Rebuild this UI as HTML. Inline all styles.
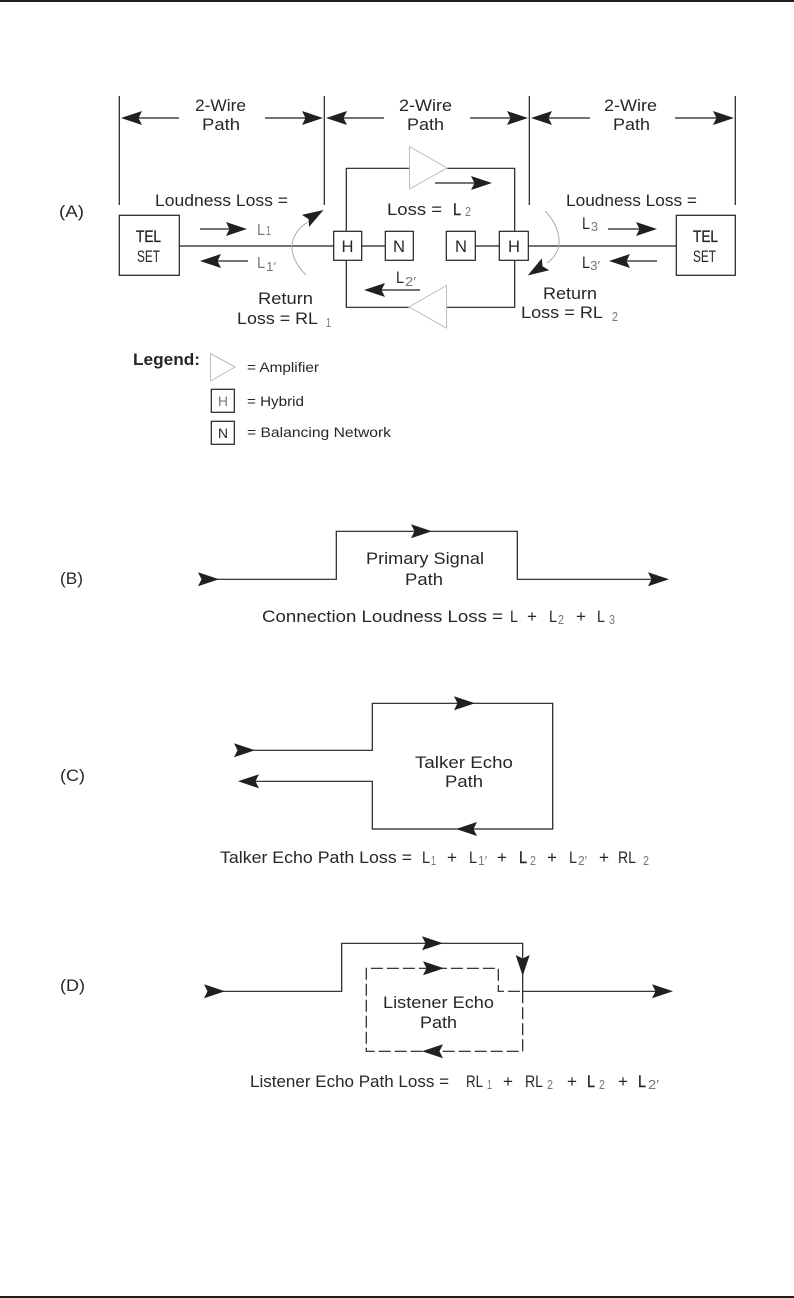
<!DOCTYPE html>
<html><head><meta charset="utf-8"><style>
html,body{margin:0;padding:0;background:#fff}
svg{display:block}
text{font-family:"Liberation Sans",sans-serif;font-size:16.5px;fill:#2a2626}
.s{font-size:13px;fill:#777}
.l{fill:none;stroke:#231f20;stroke-width:1.2}
.d{fill:none;stroke:#231f20;stroke-width:1.2;stroke-dasharray:12 4}
.t{fill:#fff;stroke:#bbb;stroke-width:1}
.c{fill:none;stroke:#aaa;stroke-width:1}
</style></head><body>
<svg xmlns="http://www.w3.org/2000/svg" width="794" height="1298" viewBox="0 0 794 1298">
<defs><path id="a" d="M0,0 L-21,-7 L-17.5,0 L-21,7 Z" fill="#231f20"/></defs>
<rect x="0" y="0" width="794" height="2" fill="#231f20"/>
<rect x="0" y="1296" width="794" height="2" fill="#231f20"/>

<!-- A: dimension -->
<path class="l" d="M119.3,96V205M324.3,96V205M529.3,96V205M735.3,96V205"/>
<path class="l" d="M125,118H179M265,118H318M331,118H384M470,118H523M536,118H590M675,118H728"/>
<use href="#a" transform="translate(121,118) rotate(180)"/>
<use href="#a" transform="translate(323,118)"/>
<use href="#a" transform="translate(326,118) rotate(180)"/>
<use href="#a" transform="translate(528,118)"/>
<use href="#a" transform="translate(531,118) rotate(180)"/>
<use href="#a" transform="translate(734,118)"/>
<text x="195" y="111" textLength="51" lengthAdjust="spacingAndGlyphs">2-Wire</text>
<text x="202" y="130" textLength="38" lengthAdjust="spacingAndGlyphs">Path</text>
<text x="399" y="111" textLength="53" lengthAdjust="spacingAndGlyphs">2-Wire</text>
<text x="407" y="130" textLength="37" lengthAdjust="spacingAndGlyphs">Path</text>
<text x="604" y="111" textLength="53" lengthAdjust="spacingAndGlyphs">2-Wire</text>
<text x="613" y="130" textLength="37" lengthAdjust="spacingAndGlyphs">Path</text>

<text x="59" y="217" textLength="25" lengthAdjust="spacingAndGlyphs">(A)</text>
<text x="155" y="206" textLength="133" lengthAdjust="spacingAndGlyphs">Loudness Loss =</text>
<text x="566" y="206" textLength="131" lengthAdjust="spacingAndGlyphs">Loudness Loss =</text>

<!-- A: TEL sets -->
<rect class="l" x="119.3" y="215.3" width="60" height="60"/>
<rect class="l" x="676.3" y="215.3" width="59" height="60"/>
<text style="stroke:#2a2626;stroke-width:.35" x="136" y="242" textLength="25" lengthAdjust="spacingAndGlyphs">TEL</text>
<text x="137" y="262" textLength="23" lengthAdjust="spacingAndGlyphs">SET</text>
<text style="stroke:#2a2626;stroke-width:.35" x="693" y="242" textLength="25" lengthAdjust="spacingAndGlyphs">TEL</text>
<text x="693" y="262" textLength="23" lengthAdjust="spacingAndGlyphs">SET</text>

<!-- A: lines -->
<path class="l" d="M179,246H334M362,246H385M476,246H499M528,246H676"/>
<path class="l" d="M346.3,231V168.3H409M447,168.3H514.7V231M514.7,260V307.3H447M409,307.3H346.3V260"/>
<rect class="l" x="333.7" y="231.3" width="28" height="29"/>
<rect class="l" x="385.3" y="231.3" width="28" height="29"/>
<rect class="l" x="446.3" y="231.3" width="29" height="29"/>
<rect class="l" x="499.3" y="231.3" width="29" height="29"/>
<text x="341.5" y="252" textLength="12" lengthAdjust="spacingAndGlyphs">H</text>
<text x="393" y="252" textLength="12" lengthAdjust="spacingAndGlyphs">N</text>
<text x="455" y="252" textLength="12" lengthAdjust="spacingAndGlyphs">N</text>
<text x="508" y="252" textLength="12" lengthAdjust="spacingAndGlyphs">H</text>
<path class="t" d="M409.5,146.5L447,168L409.5,189Z"/>
<path class="t" d="M446.5,285.5L409,307L446.5,328Z"/>

<!-- A: small arrows -->
<path class="l" d="M435,183H488M368,290H420M200,229H243M204,261H248M608,229H653M613,261H657"/>
<use href="#a" transform="translate(492,183)"/>
<use href="#a" transform="translate(364,290) rotate(180)"/>
<use href="#a" transform="translate(247,229)"/>
<use href="#a" transform="translate(200,261) rotate(180)"/>
<use href="#a" transform="translate(657,229)"/>
<use href="#a" transform="translate(609,261) rotate(180)"/>

<!-- A: curves -->
<path class="c" d="M306,275C296,265 292,256 292,247C292,237 298,228 308,222"/>
<use href="#a" transform="translate(323.5,210) rotate(-31)"/>
<path class="c" d="M545,211C555,221 559,232 559,242C559,251 554,258 547,263"/>
<use href="#a" transform="translate(527.7,275.5) rotate(148)"/>

<!-- A: labels -->
<text class="s" style="font-size:16px" x="257" y="235" textLength="8" lengthAdjust="spacingAndGlyphs">L</text>
<text class="s" x="266" y="235" textLength="5" lengthAdjust="spacingAndGlyphs">1</text>
<text class="s" style="font-size:16px" x="257" y="268" textLength="8" lengthAdjust="spacingAndGlyphs">L</text>
<text class="s" x="266" y="271" textLength="10" lengthAdjust="spacingAndGlyphs">1′</text>
<text x="258" y="304" textLength="55" lengthAdjust="spacingAndGlyphs">Return</text>
<text x="237" y="324" textLength="81" lengthAdjust="spacingAndGlyphs">Loss  =  RL</text>
<text class="s" x="326" y="327" textLength="5" lengthAdjust="spacingAndGlyphs">1</text>
<text x="387" y="215" textLength="55" lengthAdjust="spacingAndGlyphs">Loss  =</text>
<text style="stroke:#2a2626;stroke-width:.4" x="453" y="215" textLength="8" lengthAdjust="spacingAndGlyphs">L</text>
<text class="s" x="465" y="216" textLength="6" lengthAdjust="spacingAndGlyphs">2</text>
<text x="396" y="283" textLength="8" lengthAdjust="spacingAndGlyphs">L</text>
<text class="s" x="405" y="286" textLength="11" lengthAdjust="spacingAndGlyphs">2′</text>
<text x="582" y="229" textLength="8" lengthAdjust="spacingAndGlyphs">L</text>
<text class="s" x="591" y="231" textLength="7" lengthAdjust="spacingAndGlyphs">3</text>
<text x="582" y="268" textLength="8" lengthAdjust="spacingAndGlyphs">L</text>
<text class="s" x="590" y="270" textLength="10" lengthAdjust="spacingAndGlyphs">3′</text>
<text x="543" y="299" textLength="54" lengthAdjust="spacingAndGlyphs">Return</text>
<text x="521" y="318" textLength="82" lengthAdjust="spacingAndGlyphs">Loss  =  RL</text>
<text class="s" x="612" y="321" textLength="6" lengthAdjust="spacingAndGlyphs">2</text>

<!-- Legend -->
<text style="font-weight:bold;font-size:17px" x="133" y="365" textLength="67" lengthAdjust="spacingAndGlyphs">Legend:</text>
<path class="t" d="M210.5,353.5L235,367L210.5,381Z"/>
<text style="font-size:14px" x="247" y="372" textLength="72" lengthAdjust="spacingAndGlyphs">= Amplifier</text>
<rect class="l" x="211.3" y="389.3" width="23" height="23"/>
<text class="s" style="font-size:14px" x="218" y="406" textLength="10" lengthAdjust="spacingAndGlyphs">H</text>
<text style="font-size:14px" x="247" y="406" textLength="57" lengthAdjust="spacingAndGlyphs">= Hybrid</text>
<rect class="l" x="211.3" y="421.3" width="23" height="23"/>
<text style="font-size:14px" x="218" y="438" textLength="10" lengthAdjust="spacingAndGlyphs">N</text>
<text style="font-size:14px" x="247" y="437" textLength="144" lengthAdjust="spacingAndGlyphs">= Balancing Network</text>

<!-- B -->
<text x="60" y="584" textLength="23" lengthAdjust="spacingAndGlyphs">(B)</text>
<path class="l" d="M215,579.3H336.3V531.3H517.3V579.3H665"/>
<use href="#a" transform="translate(219,579.3)"/>
<use href="#a" transform="translate(432,531.3)"/>
<use href="#a" transform="translate(669,579.3)"/>
<text x="366" y="564" textLength="118" lengthAdjust="spacingAndGlyphs">Primary Signal</text>
<text x="405" y="585" textLength="38" lengthAdjust="spacingAndGlyphs">Path</text>
<text x="262" y="622" textLength="241" lengthAdjust="spacingAndGlyphs">Connection Loudness Loss =</text>
<text x="510" y="622" textLength="8" lengthAdjust="spacingAndGlyphs">L</text>
<text x="527" y="622" textLength="10" lengthAdjust="spacingAndGlyphs">+</text>
<text x="549" y="622" textLength="8" lengthAdjust="spacingAndGlyphs">L</text>
<text class="s" x="558" y="624" textLength="6" lengthAdjust="spacingAndGlyphs">2</text>
<text x="576" y="622" textLength="10" lengthAdjust="spacingAndGlyphs">+</text>
<text x="597" y="622" textLength="8" lengthAdjust="spacingAndGlyphs">L</text>
<text class="s" x="609" y="624" textLength="6" lengthAdjust="spacingAndGlyphs">3</text>

<!-- C -->
<text x="60" y="781" textLength="25" lengthAdjust="spacingAndGlyphs">(C)</text>
<path class="l" d="M250,750.3H372.3V703.3H552.7V829H372.3V781.3H243"/>
<use href="#a" transform="translate(255,750.3)"/>
<use href="#a" transform="translate(238,781.3) rotate(180)"/>
<use href="#a" transform="translate(475,703.3)"/>
<use href="#a" transform="translate(456,829) rotate(180)"/>
<text x="415" y="768" textLength="98" lengthAdjust="spacingAndGlyphs">Talker Echo</text>
<text x="445" y="787" textLength="38" lengthAdjust="spacingAndGlyphs">Path</text>
<text x="220" y="863" textLength="192" lengthAdjust="spacingAndGlyphs">Talker Echo Path Loss =</text>
<text x="422" y="863" textLength="8" lengthAdjust="spacingAndGlyphs">L</text>
<text class="s" x="431" y="865" textLength="5" lengthAdjust="spacingAndGlyphs">1</text>
<text x="447" y="863" textLength="10" lengthAdjust="spacingAndGlyphs">+</text>
<text x="469" y="863" textLength="8" lengthAdjust="spacingAndGlyphs">L</text>
<text class="s" x="478" y="865" textLength="9" lengthAdjust="spacingAndGlyphs">1′</text>
<text x="497" y="863" textLength="10" lengthAdjust="spacingAndGlyphs">+</text>
<text style="stroke:#2a2626;stroke-width:.4" x="519" y="863" textLength="8" lengthAdjust="spacingAndGlyphs">L</text>
<text class="s" x="530" y="865" textLength="6" lengthAdjust="spacingAndGlyphs">2</text>
<text x="547" y="863" textLength="10" lengthAdjust="spacingAndGlyphs">+</text>
<text x="569" y="863" textLength="8" lengthAdjust="spacingAndGlyphs">L</text>
<text class="s" x="578" y="865" textLength="9" lengthAdjust="spacingAndGlyphs">2′</text>
<text x="599" y="863" textLength="10" lengthAdjust="spacingAndGlyphs">+</text>
<text x="618" y="863" textLength="18" lengthAdjust="spacingAndGlyphs">RL</text>
<text class="s" x="643" y="865" textLength="6" lengthAdjust="spacingAndGlyphs">2</text>

<!-- D -->
<text x="60" y="991" textLength="25" lengthAdjust="spacingAndGlyphs">(D)</text>
<path class="l" d="M222,991.3H341.7V943.3H522.7V991.3H669"/>
<path class="d" d="M522.7,991.3V1051.3H366.3V968.3H498.3V991.3H522.7"/>
<use href="#a" transform="translate(225,991.3)"/>
<use href="#a" transform="translate(443,943.3)"/>
<use href="#a" transform="translate(522.7,976) rotate(90)"/>
<use href="#a" transform="translate(673,991.3)"/>
<use href="#a" transform="translate(444,968.3)"/>
<use href="#a" transform="translate(422,1051.3) rotate(180)"/>
<text x="383" y="1008" textLength="111" lengthAdjust="spacingAndGlyphs">Listener Echo</text>
<text x="420" y="1028" textLength="37" lengthAdjust="spacingAndGlyphs">Path</text>
<text x="250" y="1087" textLength="199" lengthAdjust="spacingAndGlyphs">Listener Echo Path Loss =</text>
<text x="466" y="1087" textLength="17" lengthAdjust="spacingAndGlyphs">RL</text>
<text class="s" x="487" y="1089" textLength="5" lengthAdjust="spacingAndGlyphs">1</text>
<text x="503" y="1087" textLength="10" lengthAdjust="spacingAndGlyphs">+</text>
<text x="525" y="1087" textLength="18" lengthAdjust="spacingAndGlyphs">RL</text>
<text class="s" x="547" y="1089" textLength="6" lengthAdjust="spacingAndGlyphs">2</text>
<text x="567" y="1087" textLength="10" lengthAdjust="spacingAndGlyphs">+</text>
<text style="stroke:#2a2626;stroke-width:.4" x="587" y="1087" textLength="8" lengthAdjust="spacingAndGlyphs">L</text>
<text class="s" x="599" y="1089" textLength="6" lengthAdjust="spacingAndGlyphs">2</text>
<text x="618" y="1087" textLength="10" lengthAdjust="spacingAndGlyphs">+</text>
<text style="stroke:#2a2626;stroke-width:.4" x="638" y="1087" textLength="8" lengthAdjust="spacingAndGlyphs">L</text>
<text class="s" x="648" y="1089" textLength="11" lengthAdjust="spacingAndGlyphs">2′</text>
</svg>
</body></html>
